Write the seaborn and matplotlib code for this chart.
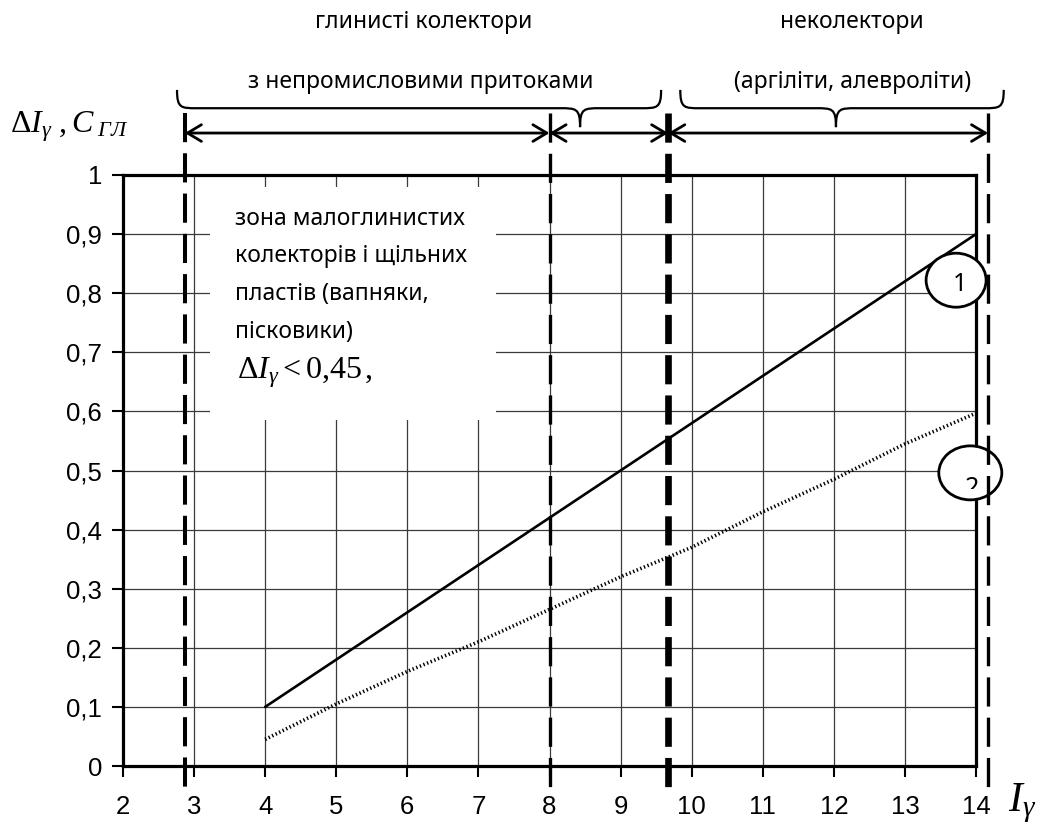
"""
Clay content chart: delta I_gamma and C_gl against I_gamma, with zone markup.
"""

import matplotlib
matplotlib.use('Agg')
import numpy as np
import matplotlib.pyplot as plt
import seaborn as sns
from matplotlib.path import Path
from matplotlib.patches import PathPatch, Rectangle, Ellipse
from matplotlib.ticker import FuncFormatter
from matplotlib.transforms import Bbox, TransformedBbox

# ---------------------------------------------------------------------------
# Data
# ---------------------------------------------------------------------------
i_gamma = [4, 5, 6, 7, 8, 9, 10, 11, 12, 13, 14]
delta_i = [0.10, 0.18, 0.26, 0.34, 0.42, 0.50, 0.58, 0.66, 0.74, 0.82, 0.90]
c_clay = [0.045, 0.105, 0.16, 0.21, 0.265, 0.32, 0.37, 0.43, 0.485, 0.545, 0.597]

x_ticks = list(range(2, 15))
y_ticks = [0, 0.1, 0.2, 0.3, 0.4, 0.5, 0.6, 0.7, 0.8, 0.9, 1.0]

# zone boundaries on the I_gamma axis
zone_bounds = [2.87, 8.0, 9.67, 14.17]

top_labels = ['глинисті колектори', 'неколектори']
brace_labels = ['з непромисловими притоками', '(аргіліти, алевроліти)']
box_lines = ['зона малоглинистих', 'колекторів і щільних',
             'пластів (вапняки,', 'пісковики)']
box_formula = r'$\Delta I_{\gamma} < 0{,}45\,,$'

# ---------------------------------------------------------------------------
# Style
# ---------------------------------------------------------------------------
sns.set_style('white')
plt.rcParams['font.family'] = ['Noto Sans', 'DejaVu Sans']
plt.rcParams['text.color'] = 'black'
plt.rcParams['xtick.color'] = 'black'
plt.rcParams['ytick.color'] = 'black'
plt.rcParams['mathtext.fontset'] = 'custom'
plt.rcParams['mathtext.rm'] = 'Liberation Serif'
plt.rcParams['mathtext.it'] = 'Liberation Serif:italic'
plt.rcParams['mathtext.bf'] = 'Liberation Serif:bold'
plt.rcParams['lines.scale_dashes'] = False

TEXT_SIZE = 16.5
TICK_FONT = 'Liberation Sans'


def draw_brace(ax, x0, x1, xt, ytop=1.144, yflat=1.113, ytip=1.081, d=0.28):
    """Curly brace opening downwards, tip at xt."""
    verts = [(x0, ytop),
             (x0, yflat), (x0 + d * 0.2, yflat), (x0 + d, yflat),
             (xt - d, yflat),
             (xt - d * 0.2, yflat), (xt, yflat), (xt, ytip),
             (xt, yflat), (xt + d * 0.2, yflat), (xt + d, yflat),
             (x1 - d, yflat),
             (x1 - d * 0.2, yflat), (x1, yflat), (x1, ytop)]
    codes = [Path.MOVETO,
             Path.CURVE4, Path.CURVE4, Path.CURVE4,
             Path.LINETO,
             Path.CURVE4, Path.CURVE4, Path.CURVE4,
             Path.CURVE4, Path.CURVE4, Path.CURVE4,
             Path.LINETO,
             Path.CURVE4, Path.CURVE4, Path.CURVE4]
    patch = PathPatch(Path(verts, codes), fc='none', ec='black', lw=1.6,
                      clip_on=False, zorder=5)
    ax.add_patch(patch)


fig = plt.figure(figsize=(10.47, 8.23), dpi=100)
ax = fig.add_axes([123 / 1047, 1 - 766 / 823, 853 / 1047, 591 / 823])

# curves
sns.lineplot(x=i_gamma, y=delta_i, color='black', lw=1.9, ax=ax, zorder=3)
sns.lineplot(x=i_gamma, y=c_clay, color='black', lw=2.6,
             linestyle=(0, (1, 1.8)), ax=ax, zorder=3)

ax.set_xlim(2, 14)
ax.set_ylim(0, 1)
ax.set_xticks(x_ticks)
ax.set_yticks(y_ticks)
ax.yaxis.set_major_formatter(
    FuncFormatter(lambda v, p: ('%g' % round(v, 1)).replace('.', ',')))
ax.set_xlabel('')
ax.set_ylabel('')

ax.grid(True, color='#3a3a3a', lw=0.9)
ax.set_axisbelow(True)
for side in ['left', 'bottom', 'right', 'top']:
    ax.spines[side].set_visible(True)
    ax.spines[side].set_color('black')
    ax.spines[side].set_linewidth(2.3)

ax.tick_params(axis='both', direction='out', length=8, width=1.5,
               color='black', labelcolor='black', labelsize=18.5,
               bottom=True, left=True)
ax.tick_params(axis='x', pad=13)
ax.tick_params(axis='y', pad=7)
for lab in ax.get_xticklabels() + ax.get_yticklabels():
    lab.set_family(TICK_FONT)

# white zone box hiding the grid
ax.add_patch(Rectangle((3.23, 0.585), 4.02, 0.395, fc='white', ec='none',
                       zorder=1))
box_y = [0.915, 0.852, 0.788, 0.725]
for txt, yy in zip(box_lines, box_y):
    ax.text(3.58, yy, txt, fontsize=TEXT_SIZE, va='baseline', ha='left',
            zorder=2)
ax.text(3.6, 0.655, box_formula, fontsize=23, va='baseline', ha='left',
        zorder=2)

# dashed zone boundaries
bound_widths = [2.9, 2.4, 4.8, 2.4]
for xb, lw in zip(zone_bounds, bound_widths):
    ax.plot([xb, xb], [1.105, -0.044], color='black', lw=lw,
            dashes=(21, 8), clip_on=False, zorder=4)

# double arrows between boundaries
for a, b in zip(zone_bounds[:-1], zone_bounds[1:]):
    ax.annotate('', xy=(b, 1.071), xytext=(a, 1.071), annotation_clip=False,
                arrowprops=dict(arrowstyle='<->,head_length=0.5,head_width=0.3',
                                lw=2, color='black', shrinkA=0, shrinkB=0,
                                mutation_scale=20))

# braces and their labels
draw_brace(ax, 2.76, 9.57, 8.43)
draw_brace(ax, 9.84, 14.39, 12.03)
for txt, xc in zip(brace_labels, [6.19, 12.27]):
    ax.text(xc, 1.147, txt, fontsize=TEXT_SIZE, ha='center', va='baseline',
            clip_on=False)
for txt, xc in zip(top_labels, [6.23, 12.26]):
    ax.text(xc, 1.249, txt, fontsize=TEXT_SIZE, ha='center', va='baseline',
            clip_on=False)

# curve markers
ax.add_patch(Ellipse((13.72, 0.822), 60 / 71.08, 54 / 591, fc='white',
                     ec='black', lw=2, zorder=3.5, clip_on=False))
ax.add_patch(Ellipse((13.92, 0.496), 63 / 71.08, 54 / 591, fc='white',
                     ec='black', lw=2, zorder=3.5, clip_on=False))
ax.text(13.78, 0.814, '1', fontsize=18, ha='center', va='center', zorder=3.6)
t2 = ax.text(13.94, 0.470, '2', fontsize=18, ha='center', va='center',
             zorder=3.6)
t2.set_clip_box(TransformedBbox(Bbox([[13.3, 0.468], [14.6, 0.6]]),
                                ax.transData))
t2.set_clip_on(True)

# axis titles
fig.text(10 / 1047, 1 - 132 / 823, r'$\Delta I_{\gamma}\ ,C_{\ ГЛ}$',
         fontsize=23, ha='left', va='baseline')
fig.text(1008 / 1047, 1 - 811 / 823, r'$I_{\gamma}$', fontsize=30,
         ha='left', va='baseline')

fig.savefig('out.png', dpi=100)
plt.close(fig)
